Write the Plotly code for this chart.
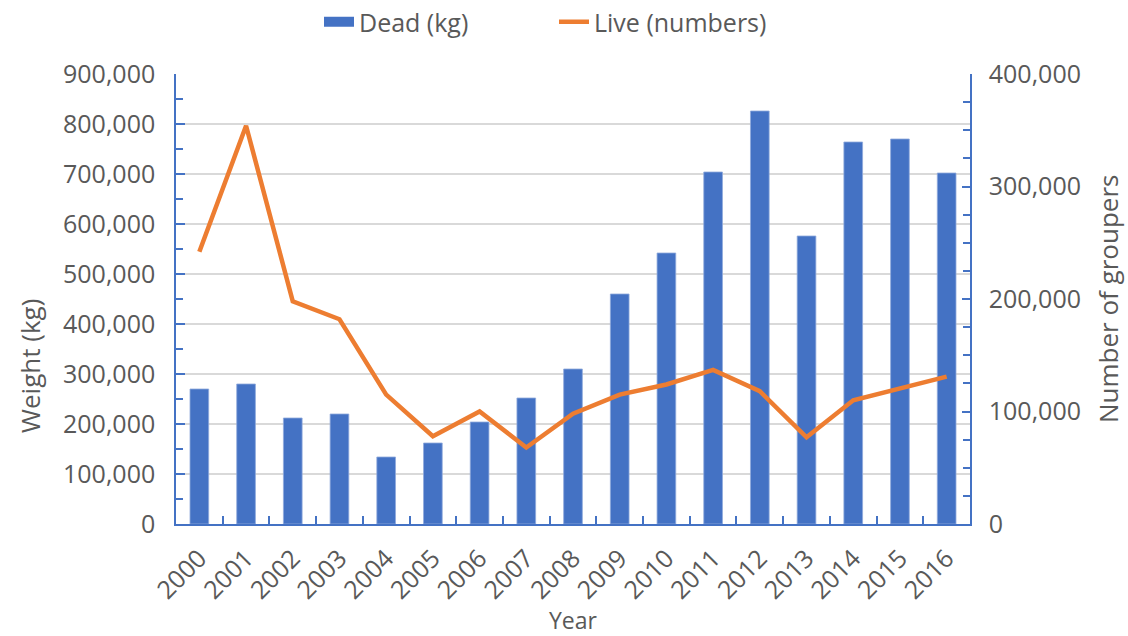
import plotly.graph_objects as go

years = [str(y) for y in range(2000, 2017)]
dead_kg = [270000, 280000, 212000, 220000, 134000, 162000, 204000, 252000, 310000,
           460000, 542000, 704000, 826000, 576000, 764000, 770000, 702000]
live_numbers = [242000, 354000, 198000, 182000, 115000, 78000, 100000, 68000, 98000,
                115000, 124000, 137000, 118000, 77000, 110000, 120000, 131000]

BLUE = "#4472C4"
ORANGE = "#ED7D31"
TXT = "#595959"
FONT = "Open Sans"

L, R, T, B = 176, 158, 74, 112
PW, PH = 1128 - L - R, 636 - T - B

fig = go.Figure()
fig.add_trace(go.Bar(x=years, y=dead_kg, name="Dead (kg)", legendgroup="dead", showlegend=False,
                     marker=dict(color=BLUE, line=dict(width=0.8, color="#8FAADC")), yaxis="y"))
# legend swatch for the bars (wide rectangle, as in the reference)
fig.add_trace(go.Scatter(x=[None], y=[None], name="Dead (kg)", legendgroup="dead", mode="lines",
                         line=dict(color=BLUE, width=15), yaxis="y"))
fig.add_trace(go.Scatter(x=years, y=live_numbers, name="Live (numbers)", mode="lines",
                         line=dict(color=ORANGE, width=4.5), yaxis="y2"))

fig.update_layout(
    width=1128, height=636,
    margin=dict(l=L, r=R, t=T, b=B, autoexpand=False),
    plot_bgcolor="white", paper_bgcolor="white",
    font=dict(family=FONT, size=25, color=TXT),
    bargap=0.6,
    showlegend=True,
    legend=dict(orientation="h", x=(319 - L) / PW, xanchor="left", y=1 + (T - 22) / PH, yanchor="middle",
                font=dict(family=FONT, size=25, color=TXT), itemwidth=30,
                entrywidth=190, entrywidthmode="pixels", bgcolor="rgba(0,0,0,0)"),
    xaxis=dict(
        type="category", showline=True, linecolor=BLUE, linewidth=1.5, automargin=False,
        ticks="inside", tickson="boundaries", ticklen=8, tickcolor=BLUE, tickwidth=1.5,
        tickangle=-45, tickfont=dict(size=25, color=TXT), ticklabelstandoff=8,
        showgrid=False, zeroline=False,
    ),
    yaxis=dict(
        range=[0, 900000], dtick=100000, tickformat=",", showline=True, linecolor=BLUE,
        linewidth=1.5, ticks="inside", ticklen=9, tickcolor=BLUE, tickwidth=1.5, automargin=False,
        minor=dict(dtick=50000, ticks="inside", ticklen=7, tickcolor=BLUE, tickwidth=1.5, showgrid=False),
        showgrid=True, gridcolor="#D9D9D9", gridwidth=1.5, zeroline=False,
        tickfont=dict(size=25, color=TXT), ticklabelstandoff=14,
    ),
    yaxis2=dict(
        range=[0, 400000], dtick=100000, tickformat=",", overlaying="y", side="right",
        showline=True, linecolor=BLUE, linewidth=1.5, ticks="inside", ticklen=8, automargin=False,
        tickcolor=BLUE, tickwidth=1.5,
        minor=dict(dtick=25000, ticks="inside", ticklen=7, tickcolor=BLUE, tickwidth=1.5, showgrid=False),
        showgrid=False, zeroline=False, tickfont=dict(size=25, color=TXT), ticklabelstandoff=12,
    ),
    annotations=[
        dict(text="Year", xref="paper", yref="paper", x=(573 - L) / PW,
             y=(T + PH - 620) / PH, showarrow=False, xanchor="center", yanchor="middle",
             font=dict(size=23, color=TXT)),
        dict(text="Weight (kg)", xref="paper", yref="paper", x=(30 - L) / PW, y=(T + PH - 366) / PH,
             textangle=-90, showarrow=False, xanchor="center", yanchor="middle",
             font=dict(size=26, color=TXT)),
        dict(text="Number of groupers", xref="paper", yref="paper", x=(1108 - L) / PW,
             y=(T + PH - 299) / PH, textangle=-90, showarrow=False, xanchor="center",
             yanchor="middle", font=dict(size=26, color=TXT)),
    ],
)

fig.write_html("out.html", config={"displayModeBar": False},
               post_script="document.body.style.margin='0';document.body.style.overflow='hidden';")
